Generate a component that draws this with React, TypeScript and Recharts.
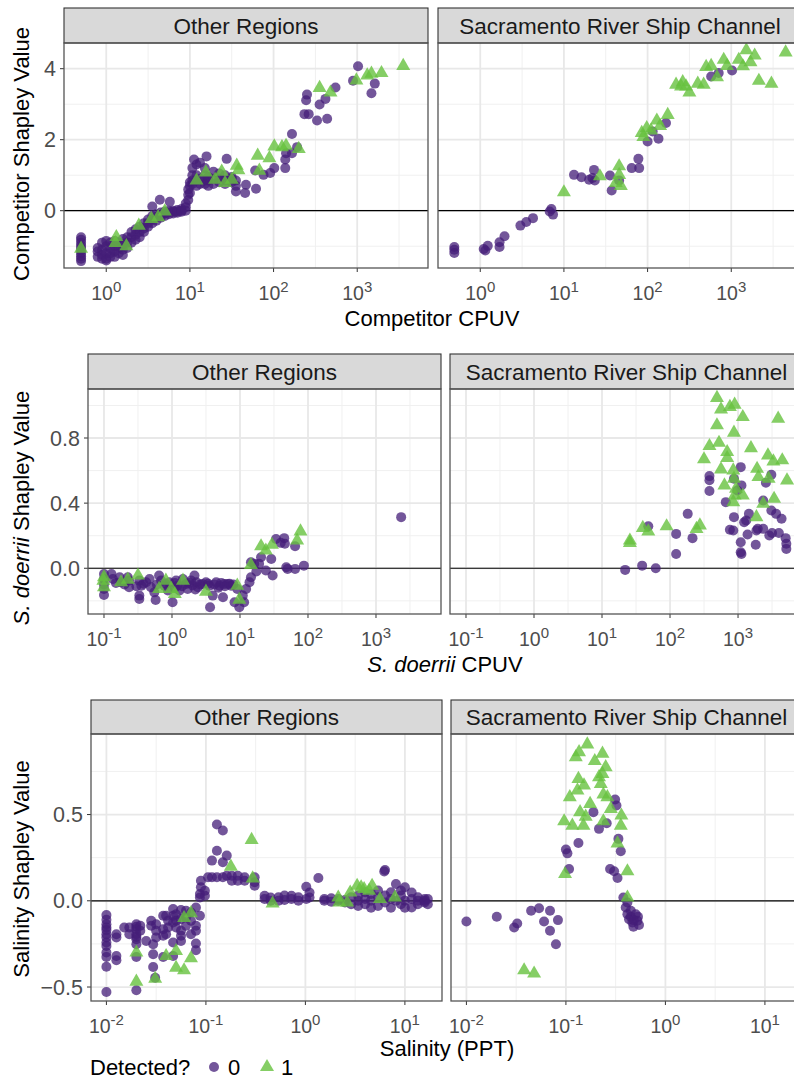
import React from "react";
import { ScatterChart, Scatter, XAxis, YAxis, CartesianGrid, ReferenceLine } from "recharts";

type Pt = [number, number];

// ---- Competitor CPUV (row 1)
const compOtherNo: Pt[] = [
  [0.5, -0.75], [0.5, -0.82], [0.5, -0.9], [0.5, -0.98], [0.5, -1.05], [0.5, -1.12], [0.5, -1.2], [0.5, -1.28], [0.5, -1.35], [0.5, -1.42],
  [0.79, -1.05], [0.79, -1.15], [0.79, -1.3], [0.89, -0.9], [0.89, -1.1], [0.89, -1.25], [0.89, -1.35],
  [1.0, -0.85], [1.0, -1.0], [1.0, -1.2], [1.0, -1.35], [1.0, -1.4], [1.12, -0.9], [1.12, -1.05], [1.12, -1.2], [1.12, -1.3],
  [1.26, -0.85], [1.26, -1.0], [1.26, -1.15], [1.26, -1.3], [1.41, -0.9], [1.41, -1.05], [1.41, -1.2],
  [1.58, -0.8], [1.58, -0.95], [1.58, -1.1], [1.58, -1.25], [1.78, -0.75], [1.78, -0.9], [1.78, -1.05],
  [2.0, -0.6], [2.0, -0.75], [2.0, -0.9], [2.24, -0.52], [2.24, -0.68], [2.24, -0.82],
  [2.51, -0.45], [2.51, -0.6], [2.51, -0.75], [2.82, -0.35], [2.82, -0.5], [2.82, -0.6],
  [3.16, -0.25], [3.16, -0.35], [3.16, -0.45], [3.55, -0.15], [3.55, -0.25], [3.55, -0.35], [3.55, 0.12],
  [3.98, -0.1], [3.98, -0.18], [3.98, -0.28], [4.37, 0.31], [4.47, -0.05], [4.47, -0.12], [4.47, -0.2],
  [5.01, -0.02], [5.01, -0.08], [5.01, -0.15], [5.75, 0.25], [5.62, 0.0], [5.62, -0.05], [5.62, -0.1],
  [6.31, 0.0], [6.31, -0.03], [6.31, -0.08], [7.08, 0.02], [7.08, -0.02], [7.08, -0.06],
  [7.94, 0.05], [7.94, 0.0], [7.94, -0.03], [8.91, 0.1], [8.91, 0.2], [8.91, 0.0],
  [9.55, 0.3], [9.55, 0.45], [9.55, 0.6], [10, 0.5], [10, 0.7], [10, 0.8],
  [10.7, 0.75], [10.7, 0.85], [10.7, 1.0], [10.7, 1.2], [11.2, 1.44],
  [12.0, 0.7], [12.0, 0.85], [12.0, 1.0], [12.0, 1.3], [13.2, 0.75], [13.2, 0.9], [13.2, 1.35], [15.8, 1.53],
  [15.1, 0.75], [15.1, 0.85], [15.1, 1.0], [15.1, 1.2], [16.6, 0.7], [16.6, 0.85], [16.6, 0.95],
  [19.1, 0.75], [19.1, 0.9], [19.1, 1.1], [22.4, 0.8], [22.4, 0.9], [22.4, 1.05], [27.5, 1.46],
  [26.3, 0.75], [26.3, 0.85], [26.3, 1.0], [31.6, 0.8], [31.6, 0.9], [31.6, 0.95],
  [35.5, 0.54], [35.5, 0.7], [35.5, 0.85], [45.7, 0.5], [46.8, 0.73], [61.7, 0.62], [60.3, 1.13],
  [75.9, 1.01], [91.2, 1.06], [102, 1.2], [138, 1.2], [138, 1.44], [141, 1.62], [166, 1.62], [166, 2.16], [191, 1.79],
  [251, 3.27], [245, 3.11], [234, 2.72], [263, 2.72], [331, 2.54], [437, 2.59], [355, 2.99], [417, 3.15], [550, 3.47],
  [891, 3.66], [1023, 4.07], [1622, 3.58], [1479, 3.31],
];
const compOtherYes: Pt[] = [
  [0.5, -1.07], [1.32, -0.74], [1.29, -0.91], [1.74, -1.0], [2.45, -0.42], [3.47, -0.23], [4.17, -0.18], [5.01, -0.02],
  [12.0, 0.85], [15.5, 1.08], [20.0, 0.87], [24.0, 1.1], [26.3, 0.78], [31.6, 0.87], [36.3, 1.27], [38.0, 1.14],
  [64.6, 1.55], [89.1, 1.48], [67.6, 1.13], [102, 1.81], [126, 1.79], [141, 1.83], [200, 1.74],
  [355, 3.46], [479, 3.33], [977, 3.67], [1318, 3.81], [1479, 3.86], [1950, 3.88], [3548, 4.08],
];
const compSacNo: Pt[] = [
  [0.49, -1.02], [0.49, -1.1], [0.49, -1.19], [1.1, -1.08], [1.23, -0.99], [1.15, -1.12], [1.7, -0.89], [1.7, -1.02],
  [1.95, -0.72], [3.02, -0.42], [3.55, -0.32], [4.27, -0.21], [6.76, -0.02], [7.41, -0.11], [7.08, 0.05],
  [13.2, 1.01], [16.2, 0.94], [20, 0.87], [22.9, 1.15], [23.4, 0.85], [21.9, 0.92], [35.5, 0.99], [37.2, 0.57],
  [45.7, 0.85], [64.6, 1.2], [79.4, 1.2], [77.6, 1.46], [100, 1.95], [135, 2.03], [115, 2.23], [166, 2.47],
  [575, 3.78], [1023, 3.95], [708, 3.88],
];
const compSacYes: Pt[] = [
  [10, 0.52], [26.9, 0.97], [45.7, 1.25], [45.7, 1.01], [41.7, 0.78], [47.9, 0.7], [85.1, 2.19], [97.7, 2.33],
  [89.1, 2.08], [110, 2.26], [129, 2.54], [141, 2.39], [174, 2.7], [219, 3.55], [263, 3.62], [288, 3.5], [316, 3.33],
  [251, 3.5], [398, 3.58], [468, 3.55], [501, 4.05], [575, 4.08], [676, 3.76], [813, 4.25], [891, 4.08],
  [1230, 4.25], [1380, 4.07], [1514, 4.52], [1905, 4.37], [1698, 4.18], [2138, 3.66], [3020, 3.58], [4467, 4.46],
];

// ---- S. doerrii CPUV (row 2)
const doerOtherNo: Pt[] = [
  [0.1, -0.035], [0.1, -0.066], [0.1, -0.1], [0.1, -0.127], [0.1, -0.164], [0.129, -0.035], [0.135, -0.066],
  [0.15, -0.09], [0.17, -0.055], [0.178, -0.086], [0.2, -0.1], [0.224, -0.055], [0.234, -0.076], [0.234, -0.117],
  [0.3, -0.11], [0.331, -0.076], [0.331, -0.168], [0.331, -0.189], [0.355, -0.107], [0.38, -0.095], [0.417, -0.086],
  [0.468, -0.066], [0.49, -0.117], [0.55, -0.148], [0.575, -0.195], [0.6, -0.1], [0.646, -0.045], [0.692, -0.076],
  [0.776, -0.107], [0.8, -0.095], [0.871, -0.137], [0.912, -0.086], [1.02, -0.209], [1.1, -0.09], [1.1, -0.12],
  [1.15, -0.076], [1.2, -0.107], [1.29, -0.137], [1.4, -0.11], [1.45, -0.066], [1.62, -0.096], [1.7, -0.127],
  [1.8, -0.09], [1.91, -0.076], [2.0, -0.105], [2.14, -0.045], [2.2, -0.13], [2.29, -0.086], [2.4, -0.117],
  [2.6, -0.1], [2.82, -0.096], [3.16, -0.086], [3.4, -0.095], [3.55, -0.107], [3.63, -0.24], [3.98, -0.168],
  [4.2, -0.1], [4.47, -0.086], [4.8, -0.12], [5.01, -0.107], [5.3, -0.09], [5.62, -0.178], [5.89, -0.096],
  [6.0, -0.11], [6.61, -0.096], [7.0, -0.095], [7.41, -0.107], [8.0, -0.1], [8.32, -0.209], [9.12, -0.127],
  [9.77, -0.24], [11.0, -0.168], [11.5, -0.209], [12.3, -0.127], [13.8, -0.086], [14.5, -0.055], [14.5, 0.037],
  [16.2, 0.027], [17.4, -0.02], [19.1, 0.027], [20.4, 0.068], [24.0, -0.014], [28.8, 0.057], [30.2, -0.045],
  [33.9, 0.18], [39.8, 0.156], [44.7, 0.185], [45.7, 0.15], [64.6, 0.135], [47.9, 0.006], [50.1, -0.004],
  [64.6, -0.004], [87.1, 0.016], [2344, 0.314],
];
const doerOtherYes: Pt[] = [
  [0.098, -0.076], [0.1, -0.055], [0.1, -0.117], [0.178, -0.086], [0.224, -0.07], [0.316, -0.045], [0.646, -0.127],
  [0.813, -0.076], [0.977, -0.127], [1.1, -0.158], [1.45, -0.076], [3.16, -0.144], [9.12, -0.107], [9.77, -0.193],
  [14.5, 0.02], [20.4, 0.135], [24.0, 0.109], [29.5, 0.144], [69.2, 0.17], [77.6, 0.226],
];
const doerSacNo: Pt[] = [
  [21.9, -0.01], [38.9, 0.016], [61.7, 0.0], [47.9, 0.258], [123, 0.211], [123, 0.088], [182, 0.334], [214, 0.185],
  [380, 0.566], [380, 0.54], [380, 0.474], [661, 0.406], [759, 0.236], [851, 0.232], [871, 0.314], [871, 0.55],
  [977, 0.478], [1096, 0.621], [1122, 0.509], [1096, 0.16], [1096, 0.098], [1122, 0.088], [1230, 0.283],
  [1318, 0.293], [1380, 0.207], [1445, 0.334], [1820, 0.144], [1862, 0.232], [1950, 0.242], [2344, 0.416],
  [2344, 0.242], [2570, 0.525], [2884, 0.201], [3090, 0.574], [3090, 0.355], [3162, 0.217], [3631, 0.334],
  [3981, 0.217], [4365, 0.304], [5012, 0.185], [5129, 0.15], [5129, 0.119],
];
const doerSacYes: Pt[] = [
  [25.7, 0.17], [25.7, 0.156], [39.8, 0.248], [47.9, 0.226], [89.1, 0.258], [245, 0.242], [275, 0.263],
  [316, 0.669], [380, 0.751], [490, 1.046], [562, 0.976], [490, 0.878], [525, 0.771], [692, 0.714], [692, 0.677],
  [562, 0.607], [631, 0.509], [759, 0.991], [891, 1.005], [871, 0.833], [1175, 0.929], [851, 0.601], [871, 0.55],
  [933, 0.488], [891, 0.447], [851, 0.406], [1175, 0.447], [1549, 0.738], [1905, 0.611], [1995, 0.56],
  [2344, 0.396], [1862, 0.314], [2754, 0.693], [2818, 0.55], [3311, 0.656], [3388, 0.427], [3890, 0.919],
  [4467, 0.663], [5248, 0.54],
];

// ---- Salinity PPT (row 3)
const salOtherNo: Pt[] = [
  [0.01, -0.083], [0.01, -0.11], [0.01, -0.136], [0.01, -0.155], [0.01, -0.17], [0.01, -0.194], [0.01, -0.213],
  [0.01, -0.242], [0.01, -0.262], [0.01, -0.3], [0.01, -0.326], [0.01, -0.382], [0.01, -0.529],
  [0.0126, -0.194], [0.0126, -0.213], [0.0126, -0.32], [0.0126, -0.345], [0.0151, -0.155], [0.017, -0.155], [0.017, -0.194],
  [0.02, -0.136], [0.02, -0.15], [0.02, -0.165], [0.02, -0.194], [0.02, -0.21], [0.02, -0.223], [0.02, -0.252],
  [0.02, -0.326], [0.02, -0.519], [0.0219, -0.145], [0.0219, -0.174], [0.0251, -0.233], [0.0282, -0.145],
  [0.0282, -0.116], [0.0295, -0.252], [0.0295, -0.31], [0.0295, -0.384], [0.0309, -0.446],
  [0.0316, -0.136], [0.0316, -0.174], [0.0316, -0.213], [0.0372, -0.087], [0.0372, -0.165], [0.0372, -0.203],
  [0.0372, -0.326], [0.0398, -0.087], [0.0398, -0.194], [0.0417, -0.116], [0.0417, -0.155],
  [0.0468, -0.048], [0.0468, -0.087], [0.0468, -0.126], [0.0468, -0.242], [0.0468, -0.32],
  [0.0501, -0.078], [0.0501, -0.116], [0.0501, -0.155], [0.0562, -0.054], [0.0562, -0.107], [0.0562, -0.174],
  [0.0562, -0.203], [0.0562, -0.233], [0.0631, -0.058], [0.0631, -0.097], [0.0631, -0.145],
  [0.0708, -0.068], [0.0708, -0.116], [0.0708, -0.194], [0.0794, -0.039], [0.0794, -0.145], [0.0794, -0.174],
  [0.0794, -0.248], [0.0794, -0.287], [0.0871, -0.087], [0.0871, 0.019], [0.0871, 0.039], [0.0891, 0.078],
  [0.0891, 0.116], [0.0977, 0.058], [0.0977, 0.029], [0.105, 0.136], [0.115, 0.233], [0.115, 0.136],
  [0.129, 0.29], [0.129, 0.136], [0.129, 0.442], [0.148, 0.407], [0.148, 0.223], [0.148, 0.136],
  [0.162, 0.262], [0.162, 0.145], [0.182, 0.145], [0.182, 0.116], [0.209, 0.145], [0.209, 0.116],
  [0.245, 0.136], [0.245, 0.116], [0.309, 0.107], [0.309, 0.087], [0.309, 0.136], [0.389, 0.029], [0.389, 0.01],
  [0.447, 0.019], [0.447, 0.0], [0.537, 0.02], [0.537, 0.0], [0.617, 0.03], [0.617, 0.005], [0.724, 0.029],
  [0.724, 0.01], [0.851, 0.02], [0.851, 0.0], [1.02, 0.081], [1.02, 0.01], [1.1, 0.048], [1.1, 0.019],
  [1.35, 0.132], [1.55, 0.01], [1.55, 0.0], [1.82, 0.015], [1.82, -0.005], [2.14, 0.0], [2.14, 0.01],
  [2.5, 0.005], [2.5, -0.01], [2.88, 0.02], [2.88, -0.02], [3.39, 0.03], [3.39, -0.03], [3.39, 0.0],
  [3.98, 0.05], [3.98, -0.02], [3.98, 0.01], [4.57, 0.04], [4.57, -0.04], [4.57, 0.0], [5.37, 0.06],
  [5.37, -0.03], [5.37, 0.02], [6.31, 0.178], [6.2, 0.17], [6.31, 0.03], [6.31, -0.01], [7.24, 0.05],
  [7.24, -0.04], [7.24, 0.01], [8.13, 0.097], [8.13, 0.0], [9.12, 0.06], [9.12, -0.02], [9.12, 0.03],
  [10.0, 0.078], [10.0, 0.0], [10.0, -0.04], [11.7, 0.048], [11.7, -0.039], [11.7, 0.01], [13.5, 0.02],
  [13.5, -0.02], [13.5, 0.0], [15.8, 0.01], [15.8, -0.01], [15.8, 0.0], [17.0, 0.01], [17.0, -0.02],
];
const salOtherYes: Pt[] = [
  [0.02, -0.3], [0.02, -0.469], [0.0309, -0.452], [0.0398, -0.32], [0.0501, -0.291], [0.0501, -0.388],
  [0.0603, -0.403], [0.0603, -0.1], [0.0708, -0.333], [0.0708, -0.072], [0.178, 0.198], [0.288, 0.353],
  [0.295, 0.13], [0.468, -0.016], [2.14, 0.019], [2.19, -0.01], [2.63, -0.01], [2.82, 0.048], [3.31, 0.087],
  [3.63, 0.078], [3.89, 0.068], [4.37, 0.058], [4.68, 0.087], [5.62, 0.01], [7.94, 0.019],
];
const salSacNo: Pt[] = [
  [0.01, -0.12], [0.0202, -0.093], [0.0302, -0.155], [0.0324, -0.132], [0.0447, -0.058], [0.0537, -0.043],
  [0.0692, -0.058], [0.0603, -0.12], [0.0692, -0.174], [0.0832, -0.112], [0.0794, -0.252],
  [0.1, 0.297], [0.1035, 0.275], [0.1076, 0.184], [0.1336, 0.335], [0.189, 0.514], [0.215, 0.417], [0.257, 0.45],
  [0.278, 0.184], [0.305, 0.171], [0.33, 0.132], [0.312, 0.587], [0.322, 0.552], [0.337, 0.359], [0.356, 0.287],
  [0.378, 0.019], [0.415, -0.01], [0.399, -0.039], [0.415, -0.078], [0.431, -0.107], [0.449, -0.093],
  [0.466, -0.126], [0.477, -0.151], [0.503, -0.078], [0.523, -0.116], [0.543, -0.14], [0.53, -0.093],
  [0.449, -0.058], [0.48, -0.112],
];
const salSacYes: Pt[] = [
  [0.164, 0.907], [0.1355, 0.862], [0.1256, 0.833], [0.233, 0.853], [0.195, 0.81], [0.251, 0.775], [0.233, 0.736],
  [0.215, 0.717], [0.1336, 0.707], [0.152, 0.669], [0.1306, 0.64], [0.224, 0.678], [0.238, 0.616], [0.261, 0.601],
  [0.1094, 0.601], [0.175, 0.562], [0.1387, 0.514], [0.158, 0.488], [0.2825, 0.533], [0.096, 0.461], [0.116, 0.436],
  [0.15, 0.436], [0.238, 0.461], [0.361, 0.494], [0.356, 0.436], [0.33, 0.333], [0.098, 0.155], [0.415, 0.171],
  [0.415, 0.019], [0.038, -0.403], [0.0479, -0.422],
];

const facetNames = ["Other Regions", "Sacramento River Ship Channel"];
const compXTicks = [1, 10, 100, 1000];
const compXMinor = [3.162, 31.62, 316.2, 3162];
const compYTicks = [0, 2, 4];
const compYMinor = [-1, 1, 3];
const doerXTicks = [0.1, 1, 10, 100, 1000];
const doerXMinor = [0.3162, 3.162, 31.62, 316.2, 3162];
const doerYTicks = [0, 0.4, 0.8];
const doerYMinor = [-0.2, 0.2, 0.6, 1.0];
const salXTicks = [0.01, 0.1, 1, 10];
const salXMinor = [0.03162, 0.3162, 3.162];
const salYTicks = [-0.5, 0, 0.5];
const salYMinor = [-0.25, 0.25, 0.75];

const FONT = '"Liberation Sans", Arial, Helvetica, sans-serif';
const PURPLE = "#441e78";
const GREEN = "#66c23f";

const toPts = (a: Pt[]) => a.map(([x, y]) => ({ x, y }));

function Dot(props: any) {
  const { cx, cy } = props;
  if (cx == null || cy == null) return null;
  return <circle cx={cx} cy={cy} r={5} fill={PURPLE} fillOpacity={0.75} />;
}

function Tri(props: any) {
  const { cx, cy } = props;
  if (cx == null || cy == null) return null;
  const s = 14;
  const h = s * 0.866;
  const pts = `${cx},${cy - (2 * h) / 3} ${cx - s / 2},${cy + h / 3} ${cx + s / 2},${cy + h / 3}`;
  return <polygon points={pts} fill={GREEN} fillOpacity={0.8} />;
}

function PowTick(props: any) {
  const { x, y, payload } = props;
  const e = Math.round(Math.log10(payload.value));
  return (
    <text x={x} y={y + 26} textAnchor="middle" fontFamily={FONT} fill="#4d4d4d">
      <tspan fontSize={19.5}>10</tspan>
      <tspan fontSize={15} dy={-8.5}>{String(e)}</tspan>
    </text>
  );
}

const fmtInt = (v: number) => String(v);
const fmt1 = (v: number) => (v < 0 ? "\u2212" + Math.abs(v).toFixed(1) : v.toFixed(1));

const rows = [
  {
    top: 43, height: 225, stripH: 35, yDomain: [-1.614, 4.724],
    xTicks: compXTicks, xMinor: compXMinor, yTicks: compYTicks, yMinor: compYMinor, yFmt: fmtInt,
    panels: [
      { left: 64, width: 364, xDomain: [0.3126, 7015], no: compOtherNo, yes: compOtherYes },
      { left: 438, width: 356, xDomain: [0.3126, 5623], no: compSacNo, yes: compSacYes },
    ],
  },
  {
    top: 389, height: 225, stripH: 35, yDomain: [-0.281, 1.101],
    xTicks: doerXTicks, xMinor: doerXMinor, yTicks: doerYTicks, yMinor: doerYMinor, yFmt: fmt1,
    panels: [
      { left: 88, width: 353, xDomain: [0.0582, 9036], no: doerOtherNo, yes: doerOtherYes },
      { left: 450, width: 344, xDomain: [0.0582, 6650], no: doerSacNo, yes: doerSacYes },
    ],
  },
  {
    top: 734, height: 267, stripH: 34, yDomain: [-0.581, 0.967],
    xTicks: salXTicks, xMinor: salXMinor, yTicks: salYTicks, yMinor: salYMinor, yFmt: fmt1,
    panels: [
      { left: 91, width: 351, xDomain: [0.007, 23.6], no: salOtherNo, yes: salOtherYes },
      { left: 451, width: 343, xDomain: [0.007, 19.6], no: salSacNo, yes: salSacYes },
    ],
  },
];

function Panel({ row, panel, showY }: any) {
  const yw = showY ? 64 : 0;
  // room on the left of right-hand panels so the first tick label is not clipped
  const pad = showY ? 0 : 24;
  return (
    <div style={{ position: "absolute", left: panel.left - yw - pad, top: row.top }}>
      <ScatterChart width={panel.width + yw + pad} height={row.height + 40} margin={{ top: 0, right: 0, bottom: 0, left: pad }}>
        <CartesianGrid verticalValues={row.xMinor} horizontalValues={row.yMinor} stroke="#f0f0f0" strokeWidth={1} />
        <CartesianGrid verticalValues={row.xTicks} horizontalValues={row.yTicks} stroke="#e8e8e8" strokeWidth={1.8} />
        <XAxis
          type="number" dataKey="x" scale="log" domain={panel.xDomain} allowDataOverflow
          ticks={row.xTicks} interval={0} tick={<PowTick />} tickSize={4}
          tickLine={{ stroke: "#333" }} axisLine={false} height={40}
        />
        <YAxis
          type="number" dataKey="y" domain={row.yDomain} allowDataOverflow ticks={row.yTicks} interval={0}
          hide={!showY} width={yw} tickFormatter={row.yFmt} tickSize={4} tickMargin={4}
          tickLine={{ stroke: "#333" }} axisLine={false}
          tick={{ fill: "#4d4d4d", fontSize: 21.5, fontFamily: FONT }}
        />
        <ReferenceLine y={0} stroke="#000" strokeWidth={1.2} />
        <Scatter data={toPts(panel.no)} shape={<Dot />} isAnimationActive={false} />
        <Scatter data={toPts(panel.yes)} shape={<Tri />} isAnimationActive={false} />
      </ScatterChart>
    </div>
  );
}

export default function App() {
  const xTitles = [
    { x: 432, y: 326, node: <tspan>Competitor CPUV</tspan> },
    { x: 445, y: 672, node: <><tspan fontStyle="italic">S. doerrii</tspan><tspan> CPUV</tspan></> },
    { x: 447, y: 1056, node: <tspan>Salinity (PPT)</tspan> },
  ];
  const yTitles = [
    { y: 154, node: <tspan>Competitor Shapley Value</tspan> },
    { y: 508, node: <><tspan fontStyle="italic">S. doerrii</tspan><tspan> Shapley Value</tspan></> },
    { y: 869, node: <tspan>Salinity Shapley Value</tspan> },
  ];
  return (
    <div style={{ position: "absolute", left: 0, top: 0, width: 794, height: 1080, background: "#fff", overflow: "hidden" }}>
      {rows.map((row, ri) =>
        row.panels.map((p, pi) => <Panel key={`${ri}-${pi}`} row={row} panel={p} showY={pi === 0} />)
      )}
      <svg width={794} height={1080} style={{ position: "absolute", left: 0, top: 0, pointerEvents: "none" }} fontFamily={FONT}>
        {rows.map((row, ri) =>
          row.panels.map((p, pi) => {
            const fullW = row.panels[0].width;
            return (
              <g key={`s-${ri}-${pi}`}>
                <rect x={p.left} y={row.top - row.stripH} width={fullW} height={row.stripH} fill="#d9d9d9" stroke="#333" strokeWidth={1.1} />
                <text x={p.left + fullW / 2} y={row.top - row.stripH / 2 + 8} textAnchor="middle" fontSize={22.5} fill="#1a1a1a">
                  {facetNames[pi]}
                </text>
                <rect x={p.left} y={row.top} width={fullW} height={row.height} fill="none" stroke="#555" strokeWidth={1.3} />
              </g>
            );
          })
        )}
        {xTitles.map((t, i) => (
          <text key={`xt-${i}`} x={t.x} y={t.y} textAnchor="middle" fontSize={22} fill="#000">{t.node}</text>
        ))}
        {yTitles.map((t, i) => (
          <text key={`yt-${i}`} transform={`translate(29, ${t.y}) rotate(-90)`} textAnchor="middle" fontSize={22} fill="#000">{t.node}</text>
        ))}
        <text x={90} y={1075} fontSize={22} fill="#000">Detected?</text>
        <circle cx={214} cy={1067} r={5} fill={PURPLE} fillOpacity={0.75} />
        <text x={228} y={1075} fontSize={22} fill="#000">0</text>
        <polygon points="267,1058.9 260,1071 274,1071" fill={GREEN} fillOpacity={0.8} />
        <text x={281} y={1075} fontSize={22} fill="#000">1</text>
      </svg>
    </div>
  );
}
